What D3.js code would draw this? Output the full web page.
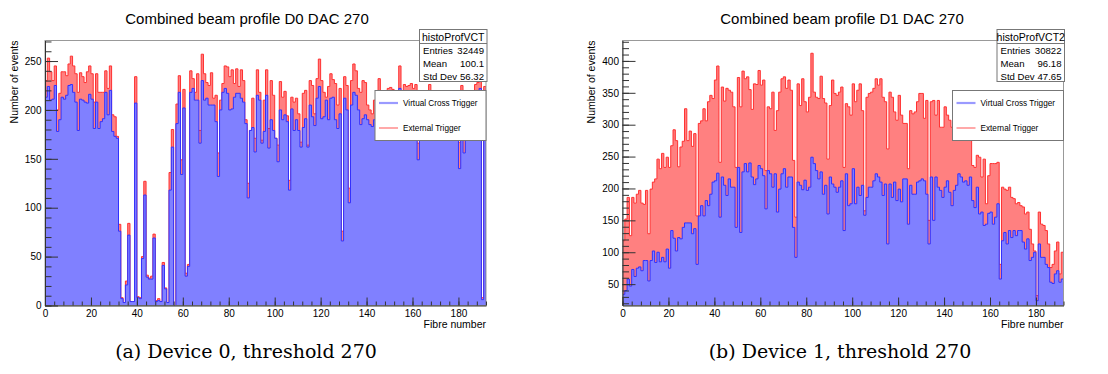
<!DOCTYPE html>
<html>
<head>
<meta charset="utf-8">
<script src="https://cdnjs.cloudflare.com/ajax/libs/d3/7.8.5/d3.min.js"></script>
<style>
  body { margin: 0; background: #fff; }
  svg { display: block; font-family: "Liberation Sans", Arial, Helvetica, sans-serif; }
</style>
</head>
<body>
<svg id="chart" width="1108" height="374"></svg>
<script>
// fibre (bin) index, 192 fibres per device
const fibres = d3.range(192);

// Device 0, DAC 270 : virtual cross trigger (blue) and external trigger (red)
const d0Vct = [
  213, 224, 210, 211, 225, 178, 190, 213, 211, 215,
  225, 226, 218, 208, 179, 211, 210, 208, 207, 216,
  211, 181, 208, 181, 188, 191, 218, 195, 220, 178,
  173, 171, 76, 7, 3, 21, 72, 4, 4, 207,
  8, 7, 48, 113, 29, 27, 27, 69, 4, 5,
  4, 41, 17, 3, 118, 162, 0, 186, 218, 134,
  202, 30, 40, 218, 222, 210, 210, 166, 230, 210,
  212, 205, 205, 205, 188, 132, 200, 218, 222, 217,
  200, 201, 213, 217, 217, 212, 208, 186, 110, 179,
  182, 157, 215, 210, 166, 178, 215, 161, 190, 179,
  171, 147, 200, 190, 195, 188, 118, 201, 179, 190,
  179, 162, 182, 191, 162, 205, 193, 184, 212, 224,
  191, 193, 210, 190, 212, 213, 190, 181, 196, 66,
  212, 200, 105, 205, 218, 215, 200, 185, 191, 195,
  190, 185, 183, 190, 195, 200, 190, 195, 188, 198,
  200, 199, 192, 190, 222, 196, 200, 202, 200, 203,
  200, 205, 149, 195, 190, 198, 192, 200, 190, 192,
  196, 188, 195, 190, 194, 189, 196, 190, 193, 185,
  140, 200, 156, 190, 188, 192, 190, 205, 215, 222,
  6, 215
];
const d0Ext = [
  230, 253, 239, 230, 245, 200, 217, 239, 239, 235,
  247, 255, 245, 237, 218, 238, 234, 228, 239, 245,
  237, 208, 237, 218, 218, 218, 240, 222, 245, 195,
  193, 173, 83, 8, 3, 25, 84, 4, 4, 234,
  9, 8, 50, 127, 31, 28, 30, 73, 5, 7,
  4, 44, 18, 3, 136, 180, 0, 206, 235, 149,
  221, 33, 42, 240, 232, 218, 237, 179, 257, 237,
  228, 225, 238, 212, 215, 156, 210, 227, 245, 244,
  234, 241, 227, 242, 224, 241, 230, 190, 125, 179,
  212, 171, 241, 218, 169, 210, 241, 181, 230, 215,
  171, 164, 229, 213, 219, 194, 128, 213, 208, 212,
  196, 167, 217, 220, 164, 230, 225, 196, 232, 252,
  230, 218, 213, 224, 237, 231, 227, 205, 222, 76,
  234, 225, 120, 230, 247, 240, 222, 218, 230, 228,
  205, 200, 196, 210, 212, 232, 210, 215, 208, 222,
  223, 221, 212, 210, 245, 214, 226, 224, 225, 227,
  222, 226, 166, 215, 210, 218, 212, 226, 214, 210,
  216, 212, 218, 208, 215, 212, 217, 210, 214, 205,
  167, 225, 169, 212, 208, 215, 210, 226, 228, 230,
  8, 224
];

// Device 1, DAC 270
const d1Vct = [
  34, 40, 58, 47, 73, 62, 75, 77, 71, 87,
  87, 55, 87, 102, 84, 100, 85, 92, 85, 105,
  75, 134, 122, 102, 123, 121, 139, 146, 146, 146,
  129, 137, 81, 157, 173, 157, 181, 173, 191, 210,
  212, 224, 155, 218, 205, 189, 215, 202, 202, 139,
  233, 131, 226, 239, 226, 240, 218, 206, 215, 236,
  231, 220, 168, 228, 223, 202, 223, 163, 199, 223,
  231, 202, 218, 218, 139, 92, 210, 205, 198, 213,
  197, 202, 249, 239, 228, 215, 226, 191, 205, 160,
  218, 207, 202, 194, 202, 212, 134, 223, 173, 176,
  231, 176, 202, 189, 205, 158, 186, 202, 202, 212,
  223, 218, 210, 189, 207, 113, 207, 186, 210, 181,
  199, 179, 215, 215, 144, 205, 191, 191, 210, 212,
  215, 212, 191, 113, 218, 150, 218, 202, 197, 186,
  202, 212, 194, 173, 197, 205, 223, 218, 210, 212,
  205, 218, 181, 170, 202, 160, 163, 142, 144, 161,
  163, 144, 155, 176, 58, 118, 131, 113, 134, 123,
  134, 126, 134, 134, 116, 105, 121, 87, 92, 100,
  24, 113, 92, 92, 81, 76, 53, 51, 66, 71,
  53, 58
];
const d1Ext = [
  118, 152, 186, 126, 186, 177, 191, 197, 177, 175,
  197, 129, 199, 210, 215, 246, 231, 255, 233, 249,
  233, 267, 292, 275, 234, 265, 274, 325, 275, 290,
  266, 286, 157, 302, 306, 325, 306, 336, 346, 341,
  370, 392, 241, 359, 337, 357, 354, 351, 328, 233,
  374, 328, 384, 372, 375, 355, 324, 364, 363, 385,
  362, 370, 228, 328, 325, 351, 291, 322, 351, 372,
  375, 357, 370, 354, 244, 155, 364, 330, 372, 336,
  320, 343, 412, 351, 343, 341, 376, 341, 334, 246,
  330, 370, 349, 346, 351, 359, 233, 333, 328, 315,
  364, 336, 354, 364, 322, 165, 343, 349, 351, 357,
  372, 362, 372, 343, 336, 262, 351, 343, 320, 307,
  346, 315, 302, 302, 231, 322, 317, 320, 336, 349,
  349, 310, 338, 150, 336, 338, 315, 338, 296, 296,
  328, 315, 307, 296, 300, 310, 320, 300, 330, 290,
  280, 290, 236, 233, 252, 249, 218, 246, 176, 220,
  239, 239, 239, 241, 81, 202, 199, 197, 202, 186,
  184, 176, 178, 173, 171, 160, 163, 136, 113, 102,
  32, 163, 144, 142, 134, 113, 76, 81, 102, 116,
  66, 100
];

const statLabels = ['Entries', 'Mean', 'Std Dev'];
const d0Stats = ['32449', '100.1', '56.32'];
const d1Stats = ['30822', '96.18', '47.65'];
const legendLabels = ['Virtual Cross Trigger', 'External Trigger'];
const xMajorTicks = d3.range(0, 181, 20);
const xMinorTicks = d3.range(0, 193, 4);

const panels = [
  { id: 'a', left: 45, title: 'Combined beam profile D0 DAC 270', name: 'histoProfVCT',
    stats: d0Stats, vct: d0Vct, ext: d0Ext, yDomain: [0, 271],
    yMajor: d3.range(0, 251, 50), yMinor: d3.range(0, 271, 10),
    titleX: 247, caption: '(a) Device 0, threshold 270', captionX: 246 },
  { id: 'b', left: 622.5, title: 'Combined beam profile D1 DAC 270', name: 'histoProfVCT2',
    stats: d1Stats, vct: d1Vct, ext: d1Ext, yDomain: [16.5, 432],
    yMajor: d3.range(50, 401, 50), yMinor: d3.range(20, 431, 10),
    titleX: 842, caption: '(b) Device 1, threshold 270', captionX: 840 }
];

const svg = d3.select('#chart');
const plotW = 441, plotTop = 40.5, plotBottom = 305.5;

panels.forEach(drawPanel);

function drawPanel(p) {
  const g = svg.append('g');
  const right = p.left + plotW;

  const x = d3.scaleLinear().domain([0, 192]).range([p.left, right]);
  const y = d3.scaleLinear().domain(p.yDomain).range([plotBottom, plotTop]);
  const yBase = p.yDomain[0];

  g.append('clipPath').attr('id', 'clip-' + p.id)
    .append('rect').attr('x', p.left).attr('y', plotTop)
    .attr('width', plotW).attr('height', plotBottom - plotTop);

  // step outline points: each bin gives a flat segment
  const steps = vals => [[0, yBase]]
    .concat(vals.flatMap((v, i) => [[fibres[i], Math.max(v, yBase)], [fibres[i] + 1, Math.max(v, yBase)]]))
    .concat([[192, yBase]]);

  const area = d3.area().x(d => x(d[0])).y0(y(yBase)).y1(d => y(d[1]));
  const line = d3.line().x(d => x(d[0])).y(d => y(d[1]));

  const hist = g.append('g').attr('clip-path', `url(#clip-${p.id})`);
  hist.append('path').attr('d', area(steps(p.ext))).attr('fill', '#ff8080');
  hist.append('path').attr('d', line(steps(p.ext))).attr('fill', 'none')
    .attr('stroke', '#ff3030').attr('stroke-width', 1);
  hist.append('path').attr('d', area(steps(p.vct))).attr('fill', '#8080ff');
  hist.append('path').attr('d', line(steps(p.vct))).attr('fill', 'none')
    .attr('stroke', '#3030ff').attr('stroke-width', 1);

  // frame
  g.append('rect').attr('x', p.left).attr('y', plotTop)
    .attr('width', plotW).attr('height', plotBottom - plotTop)
    .attr('fill', 'none').attr('stroke', '#999').attr('stroke-width', 1);

  // y axis: ticks point into the frame
  const yAxis = g.append('g').attr('transform', `translate(${p.left},0)`)
    .call(d3.axisLeft(y).tickValues(p.yMajor).tickSizeInner(-13).tickSizeOuter(0).tickPadding(3.5));
  g.append('g').attr('transform', `translate(${p.left},0)`)
    .call(d3.axisLeft(y).tickValues(p.yMinor).tickSizeInner(-6.5).tickSizeOuter(0).tickFormat(''))
    .call(a => a.select('.domain').remove());

  const xAxis = g.append('g').attr('transform', `translate(0,${plotBottom})`)
    .call(d3.axisBottom(x).tickValues(xMajorTicks).tickSizeInner(-8).tickSizeOuter(0).tickPadding(4));
  g.append('g').attr('transform', `translate(0,${plotBottom})`)
    .call(d3.axisBottom(x).tickValues(xMinorTicks).tickSizeInner(-4).tickSizeOuter(0).tickFormat(''))
    .call(a => a.select('.domain').remove());

  g.selectAll('.tick line').attr('stroke', '#333');
  g.selectAll('.domain').attr('stroke', '#333');
  [yAxis, xAxis].forEach(a => a.selectAll('text')
    .attr('font-family', '"Liberation Sans", Arial, sans-serif')
    .attr('font-size', 10).attr('fill', '#000'));

  // axis titles
  g.append('text')
    .attr('transform', `translate(${p.left - 27.3},${plotTop}) rotate(-90)`)
    .attr('text-anchor', 'end').attr('font-size', 10.5).text('Number of events');
  g.append('text').attr('x', right).attr('y', 328)
    .attr('text-anchor', 'end').attr('font-size', 10.5).text('Fibre number');

  // title
  g.append('text').attr('x', p.titleX).attr('y', 24)
    .attr('text-anchor', 'middle').attr('font-size', 15).text(p.title);

  // stats box at the top right corner of the frame
  const sw = 67.5, sx = right + 1 - sw, sy = 29.5;
  const sb = g.append('g');
  sb.append('rect').attr('x', sx).attr('y', sy).attr('width', sw).attr('height', 52)
    .attr('fill', '#fff').attr('stroke', '#777').attr('stroke-width', 1);
  sb.append('line').attr('x1', sx).attr('x2', sx + sw).attr('y1', 43.5).attr('y2', 43.5)
    .attr('stroke', '#777');
  sb.append('text').attr('x', sx + sw / 2).attr('y', 40.5).attr('text-anchor', 'middle')
    .attr('font-size', 10.5).text(p.name);
  statLabels.forEach((lab, i) => {
    const ty = 54 + i * 13;
    sb.append('text').attr('x', sx + 3.5).attr('y', ty).attr('font-size', 9.6).text(lab);
    sb.append('text').attr('x', sx + sw - 3).attr('y', ty).attr('text-anchor', 'end')
      .attr('font-size', 9.6).text(p.stats[i]);
  });

  // legend
  const lx = p.left + 330, ly = 90.5, lw = right - lx, lh = 50;
  const lg = g.append('g');
  lg.append('rect').attr('x', lx).attr('y', ly).attr('width', lw).attr('height', lh)
    .attr('fill', '#fff').attr('stroke', '#777').attr('stroke-width', 1);
  const legendStyle = [
    { stroke: '#9a9aff', width: 2.2 },
    { stroke: '#ff7070', width: 1.2 }
  ];
  legendLabels.forEach((lab, i) => {
    const yy = ly + 12.5 + i * 25;
    lg.append('line').attr('x1', lx + 4).attr('x2', lx + 23).attr('y1', yy).attr('y2', yy)
      .attr('stroke', legendStyle[i].stroke).attr('stroke-width', legendStyle[i].width);
    lg.append('text').attr('x', lx + 28).attr('y', yy).attr('dy', '0.35em')
      .attr('font-size', 8.2).text(lab);
  });

  // caption below the figure
  g.append('text').attr('x', p.captionX).attr('y', 358)
    .attr('text-anchor', 'middle')
    .attr('font-family', '"DejaVu Serif", serif').attr('font-size', 19)
    .text(p.caption);
}
</script>
</body>
</html>
